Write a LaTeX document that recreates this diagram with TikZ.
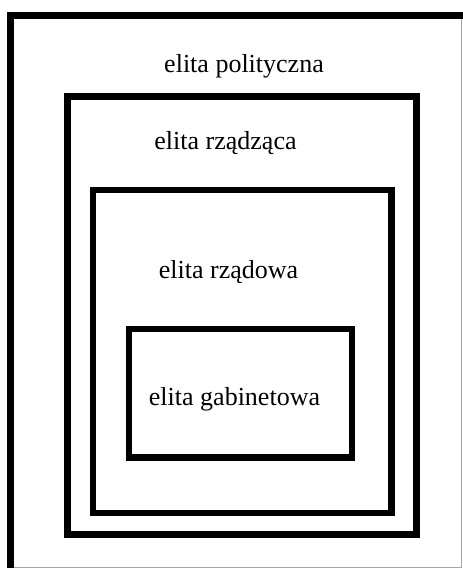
\documentclass[tikz,border=0pt]{standalone}
\usepackage{fontspec}
\setmainfont{Liberation Serif}
\usepackage{tikz}
\usetikzlibrary{positioning}
\tikzset{
    rectanglenode/.style = {draw, rectangle, line width=6.5pt, inner sep = 0em, node distance=0em},
    textnode/.style  = {draw=none, fill=none, rectangle, inner sep = 0em, anchor=base,
      font=\fontsize{26}{30}\selectfont},
    frameline/.style = {black, line width=6.5pt},
    edgeline/.style = {gray!70, line width=1pt}
}
\begin{document}
\begin{tikzpicture}[x=1pt, y=-1pt]
    \useasboundingbox (0,0) rectangle (463,568);

    % outer frame, cut off on the right and at the bottom
    \coordinate (bl) at (10.5,568);
    \coordinate (tl) at (10.5,15.5);
    \coordinate (tr) at (463,15.5);
    \draw [frameline] (bl) -- (tl) -- (tr);
    \draw [edgeline] (461.5,19) -- (461.5,567.5) -- (13.5,567.5);

    \node [name=rzadzaca, rectanglenode, minimum width=349pt, minimum height=438pt] at (242,315.5) {};
    \node [name=rzadowa, rectanglenode, minimum width=298.5pt, minimum height=323pt] at (242.25,351.5) {};
    \node [name=gabinet, rectanglenode, minimum width=223pt, minimum height=128.5pt] at (240.5,393.25) {};

    \node [name=tpolit, textnode] at (244,72) {elita polityczna};
    \node [name=trzadzaca, textnode] at (225.5,149) {elita rządząca};
    \node [name=trzadowa, textnode] at (228.5,278) {elita rządowa};
    \node [name=tgabinet, textnode] at (234.5,405) {elita gabinetowa};
\end{tikzpicture}
\end{document}
